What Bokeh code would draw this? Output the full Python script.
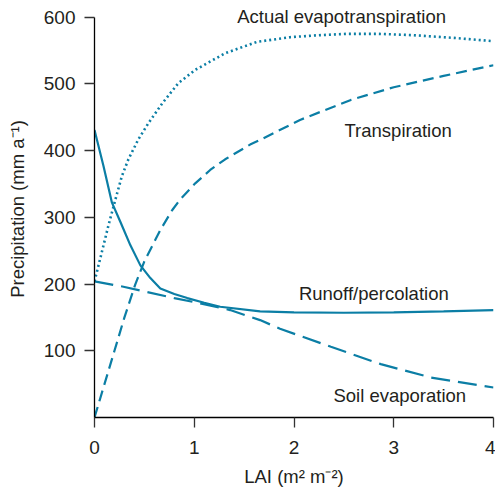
from bokeh.plotting import figure
from bokeh.models import FixedTicker, Label, Range1d
from bokeh.embed import file_html
from bokeh.resources import INLINE

# ---- data ----
et_x = [0, 0.057, 0.14, 0.21, 0.275, 0.34, 0.44, 0.54, 0.68, 0.84, 1.01, 1.31, 1.63, 1.96, 2.25, 2.53, 2.85, 3.2, 3.6, 4.0]
et_y = [204, 238, 288, 327, 362, 387, 417, 441, 471, 501, 521, 546, 563, 570, 573, 575, 575, 573, 569, 564]

tr_x = [0, 0.2, 0.3, 0.41, 0.5, 0.66, 0.78, 0.86, 1.01, 1.16, 1.31, 1.56, 1.66, 2.06, 2.57, 3.0, 3.5, 4.0]
tr_y = [0, 100, 150, 200, 234, 281, 311, 327, 351, 371, 387, 409, 416, 446, 476, 495, 512, 528]

ro_x = [0, 0.09, 0.175, 0.26, 0.36, 0.46, 0.56, 0.66, 0.8, 0.93, 1.1, 1.26, 1.66, 2.0, 2.5, 3.0, 3.5, 4.0]
ro_y = [431, 377, 322, 293, 258, 228, 209, 193.5, 185, 179, 172, 166, 159, 157.5, 157, 157.5, 159, 161]

se_x = [0, 0.29, 0.8, 1.0, 1.36, 1.66, 1.86, 2.37, 2.87, 3.37, 4.0]
se_y = [204, 196, 179, 173, 161, 146, 133, 106, 80, 60, 45]

x_ticks = [0, 1, 2, 3, 4]
y_ticks = [100, 200, 300, 400, 500, 600]
y_axis_max = 600

labels = ["Actual evapotranspiration", "Transpiration", "Runoff/percolation", "Soil evaporation"]
label_x = [2.477, 3.044, 2.80, 3.06]
label_y = [601.5, 430.5, 186.5, 33.5]

LINE = "#0b7ea5"
TEXT = "#231f20"
FONT = "Liberation Sans"

# frame extends a little above 600 so the top annotation is not clipped;
# the axis line itself stops at 600 via bounds
p = figure(width=495, height=489, output_backend="svg", toolbar_location=None,
           x_range=Range1d(0, 4), y_range=Range1d(0, 625),
           min_border_left=94, min_border_top=0, min_border_right=2, min_border_bottom=69)
p.outline_line_color = None
p.grid.visible = False
p.background_fill_color = "white"

p.line(et_x, et_y, line_color=LINE, line_width=2.6, line_dash="2 3")
p.line(tr_x, tr_y, line_color=LINE, line_width=2.2, line_dash="11 6")
p.line(ro_x, ro_y, line_color=LINE, line_width=2.2)
p.line(se_x, se_y, line_color=LINE, line_width=2.2, line_dash="19 8")

for ax in (p.xaxis[0], p.yaxis[0]):
    ax.axis_line_color = "black"
    ax.axis_line_width = 1.3
    ax.major_tick_line_color = "#333333"
    ax.major_tick_line_width = 1.3
    ax.major_tick_out = 10
    ax.major_tick_in = 0
    ax.minor_tick_line_color = None
    ax.major_label_text_font = FONT
    ax.major_label_text_font_size = "19px"
    ax.major_label_text_color = TEXT
    ax.axis_label_text_font = FONT
    ax.axis_label_text_font_size = "18.5px"
    ax.axis_label_text_font_style = "normal"
    ax.axis_label_text_color = TEXT

p.yaxis.bounds = (0, y_axis_max)
p.xaxis.ticker = FixedTicker(ticks=x_ticks)
p.yaxis.ticker = FixedTicker(ticks=y_ticks)
p.xaxis.major_label_standoff = 13
p.yaxis.major_label_standoff = 9
p.xaxis.axis_label = "LAI (m\u00b2 m\u207b\u00b2)"
p.yaxis.axis_label = "Precipitation (mm a\u207b\u00b9)"
p.xaxis.axis_label_standoff = 9
p.yaxis.axis_label_standoff = 13

for t, lx, ly in zip(labels, label_x, label_y):
    p.add_layout(Label(x=lx, y=ly, text=t, text_align="center", text_baseline="alphabetic",
                       text_font=FONT, text_font_size="18.5px", text_color=TEXT))

open("out.html", "w").write(file_html(p, INLINE))
